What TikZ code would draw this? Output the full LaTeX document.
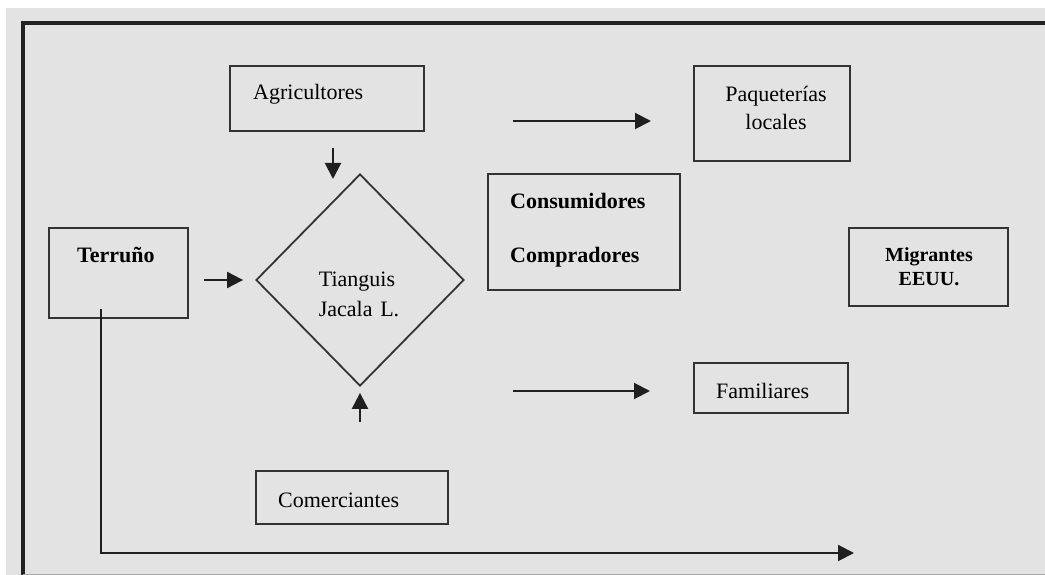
\documentclass[tikz,border=0pt]{standalone}
\usepackage{fontspec}
\setmainfont{Liberation Serif}
\usetikzlibrary{shapes.geometric,arrows.meta,calc}
\definecolor{panel}{HTML}{E3E3E3}
\definecolor{ink}{HTML}{333333}
\definecolor{frameink}{HTML}{222222}
\begin{document}
\begin{tikzpicture}[x=1pt,y=-1pt,
  box/.style={draw=ink, line width=2pt, rectangle, inner sep=0pt},
  lbl/.style={inner sep=0pt, font=\fontsize{22}{26}\selectfont},
  blbl/.style={lbl, font=\fontsize{22}{26}\selectfont\bfseries},
  slbl/.style={inner sep=0pt, font=\fontsize{20}{24}\selectfont\bfseries},
  arr/.style={line width=2pt, draw=black!88, -{Triangle[length=16pt,width=16pt]}}]
\useasboundingbox (0,0) rectangle (1045,575);
% background panel and frame
\fill[panel] (6,8) rectangle (1045,575);
\draw[line width=4pt, frameink] (23,577) -- (23,23) -- (1047,23);
\draw[line width=1pt, black!35] (23,574.5) -- (1045,574.5);

% boxes
\node[box, minimum width=194pt, minimum height=65pt] (agri) at (327,98.5) {};
\node[box, minimum width=139pt, minimum height=90pt] (terr) at (118.5,273) {};
\node[diamond, draw=ink, line width=1.8pt, aspect=1, inner sep=0pt,
      minimum width=208pt, minimum height=212pt] (tian) at (360,280) {};
\node[box, minimum width=192pt, minimum height=116pt] (cons) at (584,232) {};
\node[box, minimum width=156pt, minimum height=95pt] (paq) at (772,113.5) {};
\node[box, minimum width=154pt, minimum height=50pt] (fam) at (771,388) {};
\node[box, minimum width=159pt, minimum height=78pt] (migr) at (928.5,267) {};
\node[box, minimum width=192pt, minimum height=53pt] (com) at (352,497.5) {};

% labels
\node[lbl, anchor=base west] (agri-t) at (253,100) {Agricultores};
\node[blbl, anchor=base west] (terr-t) at (77,262) {Terruño};
\node[lbl, anchor=base] (tian-t1) at (357,286) {Tianguis};
\node[lbl, anchor=base] (tian-t2) at (359,316) {Jacala\hspace{0.35em}L.};
\node[blbl, anchor=base west] (cons-t1) at (510,209) {Consumidores};
\node[blbl, anchor=base west] (cons-t2) at (510,262) {Compradores};
\node[lbl, anchor=base] (paq-t1) at (776,102) {Paqueterías};
\node[lbl, anchor=base] (paq-t2) at (776,130) {locales};
\node[lbl, anchor=base west] (fam-t) at (716,398) {Familiares};
\node[slbl, anchor=base] (migr-t1) at (929,261) {Migrantes};
\node[slbl, anchor=base] (migr-t2) at (929,285) {EEUU.};
\node[lbl, anchor=base west] (com-t) at (278,507) {Comerciantes};

% free-standing flow arrows
\coordinate (up-s) at (513,121);
\coordinate (up-e) at (651,121);
\coordinate (dn-s) at (513,391);
\coordinate (dn-e) at (650,391);
\coordinate (long-e) at (854,553);

% connectors
\draw[arr] ($(agri.south)+(6,16)$) -- ($(agri.south)+(6,47)$);
\draw[arr, shorten <=15pt, shorten >=12pt] (terr.east |- tian.west) -- (tian.west);
\draw[arr, shorten <=48pt, shorten >=6pt] (com.north -| tian.south) -- (tian.south);
\draw[arr] (up-s) -- (up-e);
\draw[arr] (dn-s) -- (dn-e);
\draw[arr] ([xshift=-17.5pt,yshift=10pt]terr.south) |- (long-e);
\end{tikzpicture}
\end{document}
